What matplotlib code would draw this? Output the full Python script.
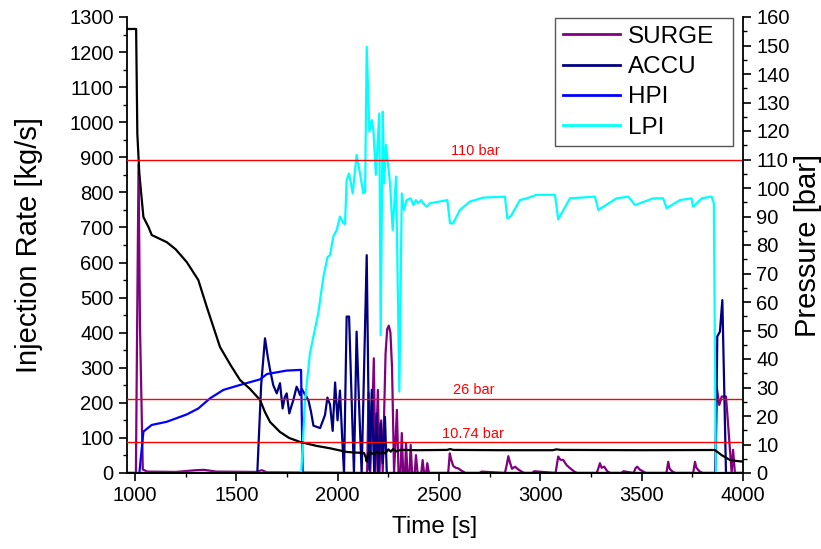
import matplotlib
matplotlib.use("Agg")
import matplotlib.pyplot as plt
from matplotlib.ticker import MultipleLocator

plt.rcParams['font.family'] = ['Liberation Sans', 'DejaVu Sans']

# ---------------- data ----------------
surge_t = [960, 1004, 1010, 1017, 1024, 1038, 1060, 1200, 1300, 1340, 1400, 1600, 1625, 1650, 1700,
           2145, 2152, 2160, 2170, 2178, 2186, 2198, 2206, 2214, 2222, 2236, 2244, 2252, 2260, 2268,
           2278, 2292, 2300, 2310, 2316, 2323, 2332, 2337, 2344, 2354, 2360, 2367, 2380, 2386, 2394,
           2412, 2419, 2426, 2436, 2442, 2450, 2545, 2553, 2560, 2570, 2582, 2595, 2610, 2630,
           2700, 2710, 2825, 2834, 2842, 2850, 2860, 2875, 2891, 2905, 2920, 2960, 2970,
           3075, 3082, 3088, 3098, 3113, 3130, 3146, 3165, 3180, 3278, 3286, 3294, 3302, 3315, 3330,
           3345, 3400, 3410, 3460, 3470, 3478, 3490, 3505, 3520, 3622, 3631, 3638, 3650, 3665,
           3754, 3763, 3770, 3785, 3800, 3862, 3870, 3883, 3895, 3916, 3925, 3944, 3951, 3960, 4000]
surge_v = [0, 0, 420, 880, 420, 10, 4, 3, 8, 9, 4, 3, 8, 2, 2,
           0, 228, 0, 150, 327, 0, 237, 0, 150, 0, 340, 410, 420, 400, 300,
           0, 180, 0, 0, 114, 0, 0, 85, 0, 0, 80, 0, 0, 51, 0,
           0, 37, 0, 0, 28, 0, 0, 56, 38, 20, 15, 13, 7, 0,
           0, 4, 0, 23, 48, 30, 12, 18, 10, 5, 0, 0, 5,
           0, 25, 47, 38, 37, 22, 14, 5, 0, 0, 13, 28, 15, 18, 5,
           0, 0, 5, 0, 14, 18, 10, 5, 0, 0, 32, 12, 5, 0,
           0, 32, 15, 5, 0, 0, 246, 194, 218, 218, 150, 0, 66, 0, 0]

accu_t = [960, 1603, 1622, 1641, 1655, 1666, 1682, 1699, 1715, 1728, 1738, 1748, 1761, 1771, 1781,
          1797, 1806, 1814, 1822, 1830, 1855, 1868, 1880, 1913, 1937, 1949, 1962, 1975, 1987, 1999,
          2011, 2022, 2031, 2044, 2056, 2068, 2080, 2093, 2105, 2118, 2143, 2156, 2168, 2180, 2192,
          2200, 2212, 2222, 2233, 2242, 3865, 3873, 3886, 3898, 3907, 3916, 4000]
accu_v = [0, 0, 250, 384, 330, 294, 250, 227, 256, 184, 215, 227, 170, 190, 208,
          246, 235, 222, 240, 232, 208, 175, 135, 128, 165, 215, 195, 120, 258, 150,
          235, 100, 0, 446, 446, 220, 0, 403, 200, 0, 621, 9, 237, 0, 170,
          0, 142, 28, 160, 0, 0, 389, 403, 493, 250, 0, 0]

hpi_t = [960, 1021, 1041, 1082, 1156, 1255, 1312, 1370, 1436, 1518, 1617, 1650, 1748, 1819, 1827, 4000]
hpi_v = [0, 0, 118, 137, 146, 167, 184, 213, 237, 251, 267, 282, 292, 294, 0, 0]

lpi_t = [960, 1820, 1839, 1863, 1904, 1929, 1950, 1962, 1978, 1995, 2011, 2028, 2036, 2044, 2056,
         2074, 2093, 2110, 2126, 2135, 2143, 2156, 2168, 2176, 2188, 2205, 2212, 2222, 2229, 2238,
         2247, 2258, 2271, 2288, 2304, 2316, 2327, 2340, 2360, 2373, 2386, 2398, 2411, 2422, 2439,
         2455, 2541, 2554, 2570, 2603, 2653, 2718, 2825, 2837, 2853, 2899, 2932, 2981, 3072, 3088,
         3146, 3269, 3286, 3376, 3434, 3467, 3557, 3606, 3623, 3689, 3746, 3754, 3796, 3845, 3856,
         3866, 4000]
lpi_v = [0, 0, 208, 342, 456, 559, 616, 621, 674, 693, 731, 712, 710, 835, 854,
         797, 907, 854, 797, 802, 1215, 973, 1006, 978, 850, 1025, 393, 1030, 826, 935,
         888, 826, 693, 845, 232, 797, 750, 778, 783, 764, 778, 769, 778, 769, 759,
         769, 778, 712, 712, 750, 774, 785, 788, 726, 731, 778, 783, 793, 793, 723,
         783, 788, 750, 783, 788, 764, 783, 783, 755, 778, 783, 759, 783, 788, 769,
         0, 0]

press_t = [960, 1005, 1011, 1021, 1033, 1041, 1066, 1082, 1156, 1200, 1255, 1312, 1354, 1419, 1470,
           1518, 1567, 1617, 1640, 1666, 1715, 1760, 1814, 1896, 1960, 2044, 2080, 2110, 2130, 2138,
           2143, 2150, 2165, 2180, 2195, 2205, 2220, 2235, 2250, 2262, 2273, 2290, 2310, 2400, 2540,
           2555, 2570, 2800, 3060, 3080, 3100, 3500, 3861, 3894, 3935, 3970, 4000]
press_v = [155.8, 155.8, 119, 105, 95.8, 89.8, 86.3, 83.5, 81, 78.5, 74, 67.7, 58.2, 44.2, 38,
           32.6, 29.5, 25.6, 21.5, 17.9, 14.4, 12.3, 10.9, 9.5, 8.7, 7.4, 7.2, 7.1, 7.0, 5.5,
           4.0, 6.8, 7.0, 6.6, 7.5, 6.8, 7.2, 6.9, 8.3, 7.5, 8.4, 7.6, 8.1, 8.0, 8.1,
           8.4, 8.1, 8.0, 8.0, 8.3, 8.1, 8.0, 8.07, 6.3, 4.6, 4.2, 4.0]

limit_values = [110, 26, 10.74]
limit_labels = ["110 bar", "26 bar", "10.74 bar"]
label_x = [2680, 2670, 2665]

# ---------------- plot ----------------
fig = plt.figure(figsize=(8.21, 5.49), dpi=100)
ax = fig.add_axes([127/821, 1-473/549, 616/821, 456/549])
ax2 = ax.twinx()

lw = 1.6
ax.plot(surge_t, surge_v, color='#800080', lw=lw, label='SURGE')
ax.plot(accu_t, accu_v, color='#000080', lw=lw, label='ACCU')
ax.plot(hpi_t, hpi_v, color='#0000FF', lw=lw, label='HPI')
ax.plot(lpi_t, lpi_v, color='#00FFFF', lw=lw, label='LPI')

ax2.plot(press_t, press_v, color='black', lw=1.6)
for v, lab, xl in zip(limit_values, limit_labels, label_x):
    ax2.axhline(v, color='red', lw=1.0)
    ax2.text(xl, v + 0.6, lab, color='red', fontsize=10.5, ha='center', va='bottom')

ax.set_xlim(960, 4000)
ax.set_ylim(0, 1300)
ax2.set_ylim(0, 160)

ax.xaxis.set_major_locator(MultipleLocator(500))
ax.xaxis.set_minor_locator(MultipleLocator(250))
ax.yaxis.set_major_locator(MultipleLocator(100))
ax.yaxis.set_minor_locator(MultipleLocator(50))
ax2.yaxis.set_major_locator(MultipleLocator(10))
ax2.yaxis.set_minor_locator(MultipleLocator(5))

for a in (ax, ax2):
    a.spines['top'].set_visible(False)
    for s in a.spines.values():
        s.set_linewidth(1.3)
    a.tick_params(which='major', direction='out', length=6, width=1.2, labelsize=14.5)
    a.tick_params(which='minor', direction='out', length=3, width=1.0)
ax2.spines['left'].set_visible(False)
ax.spines['right'].set_visible(False)

ax.set_xlabel('Time [s]', fontsize=17.5, labelpad=8)
ax.set_ylabel('Injection Rate [kg/s]', fontsize=21, labelpad=19)
ax2.set_ylabel('Pressure [bar]', fontsize=21, labelpad=3)

h, l = ax.get_legend_handles_labels()
x0 = (555 - 127) / 616
x1 = (733 - 127) / 616
top = (473 - 18) / 456
leg = ax2.legend(h, l, loc='upper left', bbox_to_anchor=(x0, 0.5, x1 - x0, top - 0.5),
                 mode='expand', borderaxespad=0,
                 fontsize=17.5, handlelength=2.35, handletextpad=0.35, labelspacing=0.34,
                 fancybox=False, framealpha=1, edgecolor='#555555', borderpad=0.32)
leg.get_frame().set_linewidth(1.0)
for line in leg.get_lines():
    line.set_linewidth(2.0)

fig.savefig('out.png', dpi=100)
